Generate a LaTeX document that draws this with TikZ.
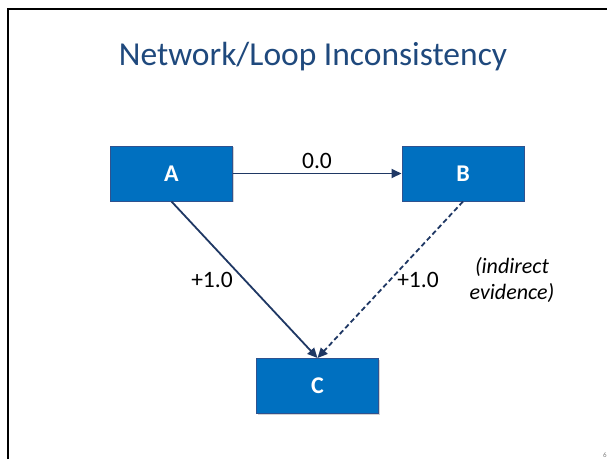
\documentclass[tikz,border=0pt]{standalone}
\usepackage{fontspec}
\setmainfont{Carlito}
\usetikzlibrary{arrows.meta,shadows}
\definecolor{titleblue}{HTML}{1F497D}
\definecolor{boxfill}{HTML}{0070C0}
\definecolor{boxedge}{HTML}{2F528F}
\definecolor{navy}{HTML}{1F3864}
\begin{document}
\begin{tikzpicture}[x=1pt,y=-1pt,
  boxnode/.style={draw=boxedge,line width=1pt,fill=boxfill,minimum width=122pt,minimum height=55pt,
    text=white,font=\fontsize{24}{28}\selectfont\bfseries,inner sep=0pt,
    drop shadow={shadow xshift=1.2pt,shadow yshift=-1.2pt,opacity=0.35}},
  conn/.style={draw=navy,line width=1.8pt,-{Triangle[length=10pt,width=9pt]}},
  lbl/.style={font=\fontsize{23.5}{27}\selectfont,text=black,inner sep=0pt}]
\useasboundingbox (0,0) rectangle (607,459);
\fill[white] (0,0) rectangle (607,459);
\draw[black,line width=2.5pt] (8,459) -- (8,9) -- (607,9);
\node[font=\fontsize{33.5}{38}\selectfont,text=titleblue,inner sep=0pt] (title) at (313,57) {Network/Loop Inconsistency};
\node[boxnode] (A) at (171.5,173.5) {A};
\node[boxnode] (B) at (463,173.5) {B};
\node[boxnode] (C) at (317.5,386) {C};
\draw[conn] (A.east) -- (B.west);
\draw[conn] (A.south) -- (C.north);
\draw[conn,dash pattern=on 5pt off 3pt] (B.south) -- (C.north);
\node[lbl] (l0) at (317,161) {0.0};
\node[lbl] (l1) at (212,280) {+1.0};
\node[lbl] (l2) at (418,280) {+1.0};
\node[lbl,font=\fontsize{22}{26}\selectfont\itshape,align=center] (ind) at (512,280) {(indirect\\evidence)};
\node[font=\fontsize{7}{8}\selectfont,text=gray,inner sep=0pt] (pg) at (605,455) {6};
\end{tikzpicture}
\end{document}
